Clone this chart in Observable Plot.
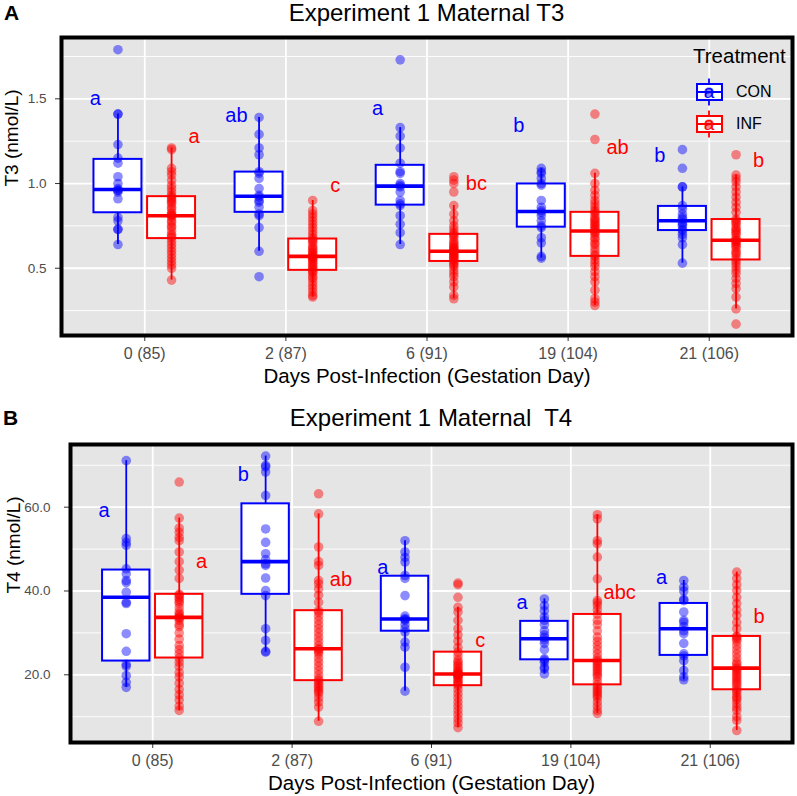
<!DOCTYPE html>
<html><head><meta charset="utf-8">
<script src="https://cdn.jsdelivr.net/npm/d3@7"></script>
<script src="https://cdn.jsdelivr.net/npm/@observablehq/plot@0.6"></script>
<style>
body{margin:0;background:#fff;font-family:"Liberation Sans",Arial,sans-serif;}
#wrap{position:relative;width:797px;height:796px;overflow:hidden;background:#fff;}
.abs{position:absolute;white-space:nowrap;}
svg{display:block;}
</style></head><body><div id="wrap"></div>
<script>
// ---------- categories ----------
const days = ["0 (85)", "2 (87)", "6 (91)", "19 (104)", "21 (106)"];
const treatments = ["CON", "INF"];
const trtColors = ["#0000FF", "#FF0000"];
const xTitle = "Days Post-Infection (Gestation Day)";

// ---------- T3 (nmol/L) ----------
const t3_CON_0 = [0.64,0.73,0.73,0.78,0.80,0.91,0.95,0.96,0.96,0.97,1.00,1.04,1.12,1.15,1.23,1.41,1.41,1.79];
const t3_INF_0 = [0.43,0.50,0.52,0.54,0.56,0.58,0.60,0.62,0.64,0.66,0.68,0.69,0.70,0.72,0.74,0.75,0.77,0.78,0.80,0.81,0.81,0.82,0.83,0.85,0.86,0.88,0.89,0.90,0.91,0.92,0.93,0.95,0.97,0.99,1.02,1.05,1.07,1.09,1.20,1.21];
const t3_CON_2 = [0.45,0.60,0.74,0.81,0.82,0.86,0.89,0.90,0.92,0.93,0.97,1.03,1.06,1.07,1.17,1.21,1.29,1.39];
const t3_INF_2 = [0.33,0.34,0.36,0.38,0.40,0.42,0.44,0.45,0.47,0.48,0.49,0.50,0.51,0.52,0.53,0.54,0.55,0.56,0.56,0.57,0.57,0.58,0.59,0.60,0.61,0.62,0.63,0.65,0.66,0.67,0.68,0.70,0.72,0.74,0.76,0.78,0.80,0.82,0.84,0.90];
const t3_CON_6 = [0.64,0.71,0.76,0.81,0.87,0.88,0.90,0.95,0.98,0.99,1.00,1.06,1.07,1.12,1.21,1.28,1.33,1.73];
const t3_INF_6 = [0.32,0.34,0.39,0.42,0.45,0.47,0.49,0.51,0.52,0.53,0.54,0.55,0.56,0.56,0.57,0.58,0.58,0.59,0.60,0.60,0.60,0.61,0.62,0.62,0.63,0.64,0.65,0.66,0.68,0.69,0.70,0.71,0.73,0.75,0.78,0.82,0.87,0.95,1.00,1.02,1.04];
const t3_CON_19 = [0.56,0.57,0.65,0.68,0.74,0.75,0.78,0.81,0.83,0.84,0.86,0.90,0.99,1.00,1.03,1.06,1.07,1.09];
const t3_INF_19 = [0.28,0.30,0.32,0.37,0.42,0.45,0.48,0.51,0.53,0.55,0.57,0.58,0.60,0.62,0.64,0.65,0.67,0.68,0.70,0.71,0.72,0.73,0.74,0.75,0.76,0.77,0.78,0.79,0.80,0.82,0.83,0.84,0.86,0.88,0.90,0.93,0.96,1.00,1.06,1.26,1.41];
const t3_CON_21 = [0.53,0.64,0.68,0.70,0.72,0.73,0.75,0.76,0.77,0.79,0.80,0.82,0.85,0.87,0.98,0.98,1.09,1.20];
const t3_INF_21 = [0.17,0.26,0.33,0.38,0.41,0.44,0.47,0.49,0.51,0.53,0.545,0.56,0.58,0.59,0.60,0.62,0.63,0.64,0.65,0.66,0.66,0.67,0.68,0.70,0.71,0.72,0.73,0.74,0.76,0.77,0.78,0.79,0.83,0.86,0.89,0.92,0.95,0.98,1.01,1.03,1.05,1.17];

const t3LettersCON = ["a", "ab", "a", "b", "b"];
const t3LetterAtCON = [1.50, 1.40, 1.445, 1.34, 1.165];
const t3LettersINF = ["a", "c", "bc", "ab", "b"];
const t3LetterAtINF = [1.28, 0.985, 1.0, 1.215, 1.135];
const t3Ticks = [0.5, 1.0, 1.5];
const t3Minor = [0.25, 0.75, 1.25, 1.75];

// ---------- T4 (nmol/L) ----------
const t4_CON_0 = [17.0,18.2,19.8,22.0,22.5,25.6,29.8,37.0,37.3,39.7,42.0,42.5,44.1,45.3,50.9,51.6,52.5,71.1];
const t4_INF_0 = [11.5,12.5,14.0,15.2,16.5,18.0,19.5,20.5,22.0,23.0,24.0,25.0,26.0,27.0,28.5,30.0,31.5,32.0,33.0,33.5,33.7,34.0,34.5,35.0,36.0,37.0,37.5,38.0,38.5,39.0,39.2,43.0,45.0,47.0,49.3,52.0,52.8,54.0,55.0,57.4,66.0];
const t4_CON_2 = [25.4,25.6,28.2,31.0,38.9,40.1,43.1,46.1,46.5,47.5,48.9,51.6,54.8,62.8,68.4,69.6,70.0,72.2];
const t4_INF_2 = [8.9,12.3,13.5,14.5,15.5,16.0,16.5,17.0,17.5,18.0,18.6,19.0,20.0,21.0,22.0,23.0,24.0,25.0,25.5,26.0,26.2,27.0,28.0,29.0,30.0,31.0,32.0,33.0,34.0,34.9,35.3,37.3,39.0,40.5,41.7,42.5,46.1,47.0,50.5,58.4,63.2];
const t4_CON_6 = [16.1,21.8,26.6,27.8,30.2,31.0,32.0,33.0,33.2,33.4,34.0,38.9,43.0,43.7,46.9,48.0,49.3,52.0];
const t4_INF_6 = [7.4,8.5,9.5,10.5,11.5,12.5,13.5,14.5,15.5,16.5,17.4,17.8,18.2,18.6,19.0,19.4,19.7,19.9,20.0,20.1,20.2,20.4,20.7,21.0,21.5,22.0,22.5,23.0,23.5,24.5,25.4,26.5,28.0,29.5,31.0,33.0,35.0,36.1,38.5,41.5,41.9];
const t4_CON_19 = [20.2,21.4,21.8,23.0,23.5,23.8,26.0,27.5,28.3,28.9,29.5,30.5,32.0,33.0,33.8,35.3,36.5,38.1];
const t4_INF_19 = [10.8,11.5,12.5,13.5,14.5,15.0,15.5,16.0,16.5,17.0,17.6,18.5,19.5,20.0,20.5,21.0,21.5,22.0,22.5,23.0,23.4,24.0,25.0,26.0,27.0,28.0,29.0,30.5,32.0,33.0,34.4,35.5,36.5,37.2,37.7,42.9,48.1,51.3,52.0,57.2,58.2];
const t4_CON_21 = [18.8,19.5,21.0,23.4,24.5,25.0,27.5,29.8,30.5,31.5,32.5,33.0,35.0,37.7,38.0,40.0,40.9,42.5];
const t4_INF_21 = [6.7,9.1,10.0,11.5,12.2,13.1,14.0,14.5,15.0,15.8,16.3,16.8,17.5,18.0,18.5,19.0,19.5,20.0,20.5,21.0,21.4,21.8,22.5,23.0,24.0,25.0,26.0,27.0,28.0,28.5,29.0,29.2,31.0,32.5,34.2,35.5,37.0,38.5,40.1,41.5,43.0,44.5];

const t4LettersCON = ["a", "b", "a", "a", "a"];
const t4LetterAtCON = [59.2, 67.8, 45.7, 37.3, 43.2];
const t4LettersINF = ["a", "ab", "c", "abc", "b"];
const t4LetterAtINF = [46.9, 42.7, 28.2, 39.7, 33.9];
const t4Ticks = [20, 40, 60];
const t4Minor = [10, 30, 50, 70];

// ---------- helpers ----------
const DODGE = 0.19, HALF = 0.17, LETTER = 0.35;
const pos = d => d.day + (d.trt === "CON" ? -DODGE : DODGE);
const FONT = "'Liberation Sans', Arial, sans-serif";

function boxStats(values) {
  const s = values.slice().sort(d3.ascending);
  const q1 = d3.quantile(s, 0.25), med = d3.quantile(s, 0.5), q3 = d3.quantile(s, 0.75);
  const iqr = q3 - q1;
  const lo = d3.min(s.filter(v => v >= q1 - 1.5 * iqr));
  const hi = d3.max(s.filter(v => v <= q3 + 1.5 * iqr));
  return {q1, med, q3, lo, hi};
}

function buildTables(con, inf, lCon, lConAt, lInf, lInfAt) {
  const points = [], boxes = [], letters = [];
  [con, inf].forEach((groups, k) => {
    groups.forEach((vals, i) => {
      vals.forEach(v => points.push({day: i, trt: treatments[k], v}));
      boxes.push({day: i, trt: treatments[k], ...boxStats(vals)});
    });
  });
  lCon.forEach((t, i) => letters.push({day: i, trt: "CON", label: t, v: lConAt[i]}));
  lInf.forEach((t, i) => letters.push({day: i, trt: "INF", label: t, v: lInfAt[i]}));
  return {points, boxes, letters};
}

function panel(o) {
  const {points, boxes, letters} = o.tables;
  return Plot.plot({
    width: 797, height: o.height,
    marginLeft: o.marginLeft, marginRight: 5, marginTop: o.marginTop, marginBottom: o.marginBottom,
    style: {fontFamily: FONT, background: "white", overflow: "visible"},
    x: {type: "linear", domain: [-0.59, 4.59]},
    y: {domain: o.yDomain},
    color: {domain: treatments, range: trtColors},
    marks: [
      Plot.frame({fill: "#E5E5E5", stroke: null}),
      Plot.ruleY(o.minor, {stroke: "white", strokeWidth: 0.9}),
      Plot.ruleY(o.ticks, {stroke: "white", strokeWidth: 1.8}),
      Plot.ruleX(d3.range(days.length), {stroke: "white", strokeWidth: 1.8}),
      Plot.ruleX(boxes, {x: pos, y1: "lo", y2: "q1", stroke: "trt", strokeWidth: 1.8}),
      Plot.ruleX(boxes, {x: pos, y1: "q3", y2: "hi", stroke: "trt", strokeWidth: 1.8}),
      Plot.rect(boxes, {x1: d => pos(d) - HALF, x2: d => pos(d) + HALF, y1: "q1", y2: "q3", fill: "white", stroke: "trt", strokeWidth: 2}),
      Plot.ruleY(boxes, {x1: d => pos(d) - HALF, x2: d => pos(d) + HALF, y: "med", stroke: "trt", strokeWidth: 3.6}),
      Plot.dot(points, {x: pos, y: "v", r: 4.8, fill: "trt", fillOpacity: 0.45, stroke: null}),
      Plot.text(letters, {x: d => d.day + (d.trt === "CON" ? -LETTER : LETTER), y: "v", text: "label", fill: "trt", fontSize: 20, lineAnchor: "middle"}),
      Plot.axisX({ticks: d3.range(days.length), tickFormat: i => days[i], tickSize: 6, tickPadding: o.xPad, fontSize: 16, fill: "#4D4D4D", stroke: "#333333", label: null}),
      Plot.axisY({ticks: o.ticks, tickFormat: d3.format(".1f"), tickSize: 6, tickPadding: o.yPad, fontSize: 13.5, fill: "#4D4D4D", stroke: "#333333", label: null}),
      Plot.text([xTitle], {text: d => d, frameAnchor: "bottom", dy: o.xTitleDy, fontSize: 20.5, fill: "black", lineAnchor: "middle"}),
      Plot.text([o.yLabel], {text: d => d, frameAnchor: "left", dx: o.yTitleDx, rotate: -90, fontSize: 19, fill: "black", lineAnchor: "middle"}),
      Plot.frame({stroke: "black", strokeWidth: 4})
    ]
  });
}

const wrap = document.getElementById("wrap");

const t3Tables = buildTables(
  [t3_CON_0, t3_CON_2, t3_CON_6, t3_CON_19, t3_CON_21],
  [t3_INF_0, t3_INF_2, t3_INF_6, t3_INF_19, t3_INF_21],
  t3LettersCON, t3LetterAtCON, t3LettersINF, t3LetterAtINF);
const t4Tables = buildTables(
  [t4_CON_0, t4_CON_2, t4_CON_6, t4_CON_19, t4_CON_21],
  [t4_INF_0, t4_INF_2, t4_INF_6, t4_INF_19, t4_INF_21],
  t4LettersCON, t4LetterAtCON, t4LettersINF, t4LetterAtINF);

const svgA = panel({tables: t3Tables, height: 392, marginLeft: 61, marginTop: 37, marginBottom: 57,
  yDomain: [0.103, 1.862], ticks: t3Ticks, minor: t3Minor, yLabel: "T3 (nmol/L)",
  xPad: 6, yPad: 9, xTitleDy: 41, yTitleDx: -50});
const svgB = panel({tables: t4Tables, height: 404, marginLeft: 70, marginTop: 52, marginBottom: 54,
  yDomain: [3.84, 74.96], ticks: t4Ticks, minor: t4Minor, yLabel: "T4 (nmol/L)",
  xPad: 6, yPad: 14, xTitleDy: 41, yTitleDx: -57});

function place(el, left, top) { el.style.position = "absolute"; el.style.left = left + "px"; el.style.top = top + "px"; wrap.appendChild(el); }
place(svgA, 0, 0);
place(svgB, 0, 392);

function addText(html, style) { const d = document.createElement("div"); d.className = "abs"; d.innerHTML = html; Object.assign(d.style, style); wrap.appendChild(d); return d; }
addText("A", {left: "4px", top: "1px", fontSize: "21px", fontWeight: "bold", lineHeight: "24px"});
addText("Experiment 1 Maternal T3", {left: "61px", width: "731px", top: "0px", textAlign: "center", fontSize: "24px", lineHeight: "26px"});
addText("B", {left: "3px", top: "406px", fontSize: "21px", fontWeight: "bold", lineHeight: "24px"});
addText("Experiment 1 Maternal&nbsp; T4", {left: "70px", width: "722px", top: "405px", textAlign: "center", fontSize: "24px", lineHeight: "26px"});

// legend (inside panel A, top-right)
addText("Treatment", {left: "693px", top: "44px", fontSize: "20.5px", lineHeight: "24px"});
treatments.forEach((t, k) => {
  const cy = 91.5 + k * 32.5;
  const c = trtColors[k];
  const ns = "http://www.w3.org/2000/svg";
  const s = document.createElementNS(ns, "svg");
  s.setAttribute("width", 32); s.setAttribute("height", 32);
  s.innerHTML =
    `<line x1="15" x2="15" y1="2.5" y2="29.5" stroke="${c}" stroke-width="1.8"/>` +
    `<rect x="3" y="8" width="25" height="16" fill="white" stroke="${c}" stroke-width="2"/>` +
    `<line x1="3" x2="28" y1="16" y2="16" stroke="${c}" stroke-width="2"/>` +
    `<circle cx="15" cy="16" r="4.8" fill="${c}" fill-opacity="0.45"/>` +
    `<text x="15" y="16" dy="0.32em" text-anchor="middle" font-size="19" fill="${c}" font-family="${FONT}">a</text>`;
  place(s, 694, cy - 16);
  addText(t, {left: "736px", top: (cy - 10) + "px", fontSize: "16px", lineHeight: "20px"});
});
</script>
</body></html>
